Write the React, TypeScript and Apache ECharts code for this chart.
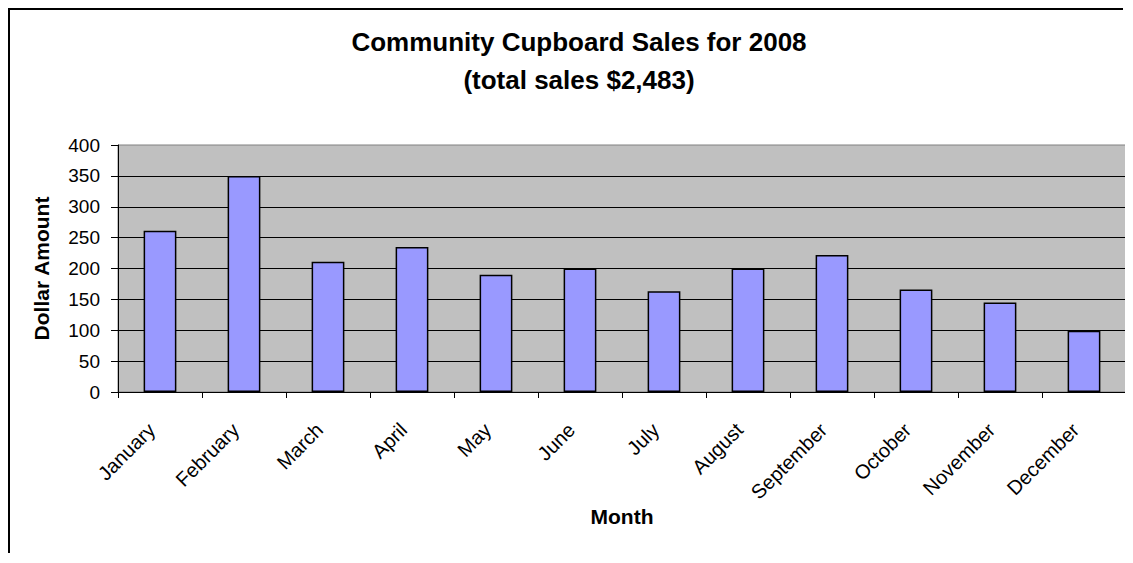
import React, { useEffect, useRef } from "react";
import * as echarts from "echarts";

const months = [
  "January", "February", "March", "April", "May", "June",
  "July", "August", "September", "October", "November", "December",
];
const sales = [261, 350, 211, 235, 190, 200, 163, 200, 222, 166, 145, 99];
const titleLines = ["Community Cupboard Sales for 2008", "(total sales $2,483)"];
const yMin = 0;
const yMax = 400;
const yStep = 50;

const FONT = "'Liberation Sans', Arial, sans-serif";

export default function App() {
  const ref = useRef<HTMLDivElement>(null);
  useEffect(() => {
    if (!ref.current) return;
    const chart = echarts.init(ref.current, undefined, { renderer: "svg" });
    chart.setOption({
      animation: false,
      backgroundColor: "#ffffff",
      textStyle: { fontFamily: FONT },
      graphic: [
        {
          type: "rect",
          left: 8,
          top: 8,
          z: 100,
          silent: true,
          shape: { width: 2, height: 545 },
          style: { fill: "#000000" },
        },
        {
          type: "rect",
          left: 8,
          top: 8,
          z: 100,
          silent: true,
          shape: { width: 1115, height: 2 },
          style: { fill: "#000000" },
        },
      ],
      title: {
        text: titleLines.join("\n"),
        left: 574,
        top: 18,
        textAlign: "center",
        textStyle: {
          fontFamily: FONT,
          fontWeight: "bold",
          fontSize: 26,
          lineHeight: 38,
          color: "#000",
        },
      },
      grid: {
        left: 118,
        top: 145,
        right: 7,
        bottom: 171,
        show: true,
        backgroundColor: "#C0C0C0",
        borderColor: "#808080",
        borderWidth: 1,
      },
      xAxis: {
        type: "category",
        data: months,
        name: "Month",
        nameLocation: "middle",
        nameGap: 112,
        nameTextStyle: { fontFamily: FONT, fontWeight: "bold", fontSize: 21, color: "#000" },
        axisLine: { show: true, lineStyle: { color: "#000", width: 1 } },
        axisTick: { show: true, length: 6, alignWithLabel: false, lineStyle: { color: "#000" } },
        axisLabel: {
          rotate: 45,
          interval: 0,
          margin: 26,
          padding: [0, 12, 0, 0],
          fontFamily: FONT,
          fontSize: 20,
          color: "#000",
        },
        splitLine: { show: false },
      },
      yAxis: {
        type: "value",
        min: yMin,
        max: yMax,
        interval: yStep,
        name: "Dollar Amount",
        nameLocation: "middle",
        nameGap: 66,
        nameTextStyle: { fontFamily: FONT, fontWeight: "bold", fontSize: 21, color: "#000" },
        axisLine: { show: true, lineStyle: { color: "#000", width: 1 } },
        axisTick: { show: true, length: 7, inside: false, lineStyle: { color: "#000" } },
        axisLabel: { margin: 18, fontFamily: FONT, fontSize: 19, color: "#000" },
        splitLine: { show: true, showMaxLine: false, lineStyle: { color: "#000", width: 1 } },
      },
      series: [
        {
          type: "bar",
          data: sales,
          barWidth: "39%",
          itemStyle: { color: "#9999FF", borderColor: "#000", borderWidth: 1.5 },
        },
      ],
    });
    return () => chart.dispose();
  }, []);
  return (
    <div style={{ position: "relative", width: 1133, height: 563, margin: -8 }}>
      <div ref={ref} style={{ width: 1133, height: 563 }} />
    </div>
  );
}
